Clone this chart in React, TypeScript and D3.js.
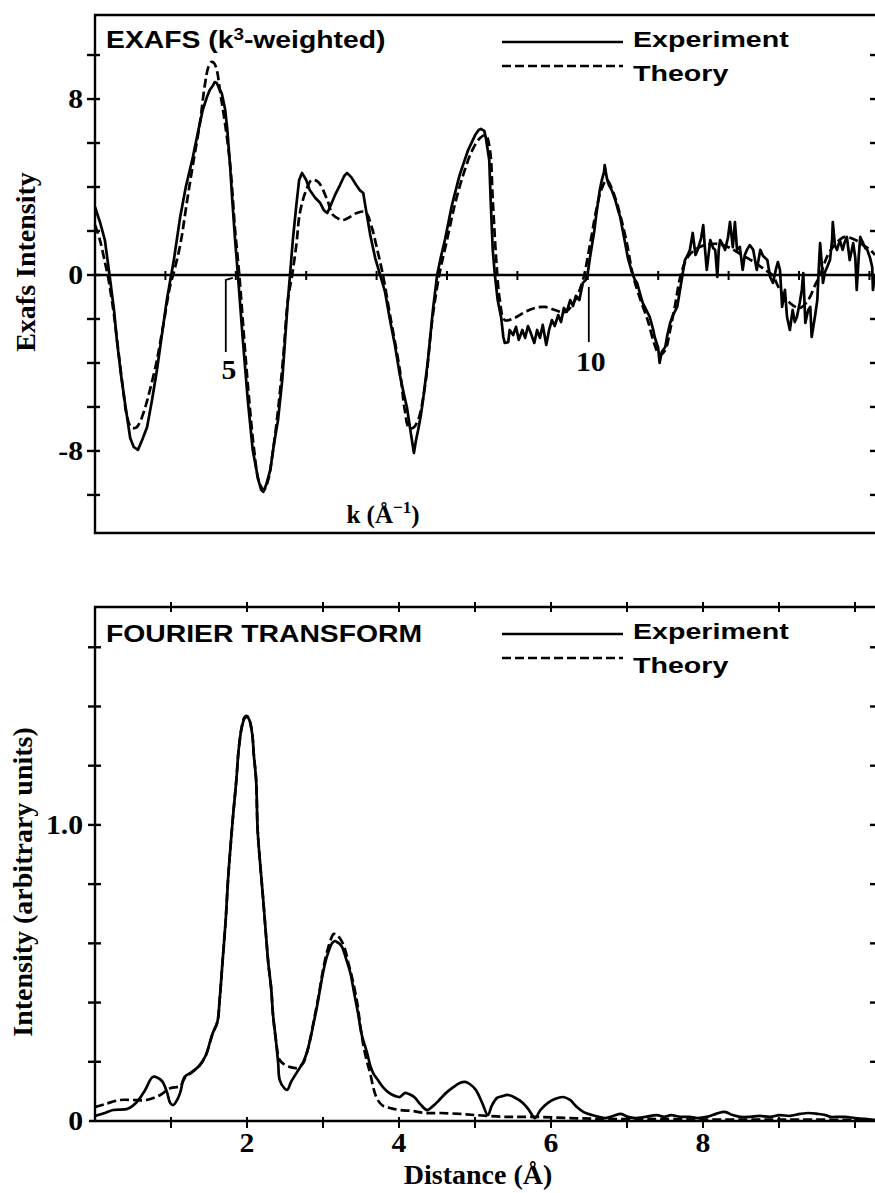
import React from "react";
import * as d3 from "d3";

// ---------- DATA ----------
// Top panel: k (Å^-1) vs k^3-weighted EXAFS intensity
const exafsExperiment: [number, number][] = [
  [3.0, 3.09], [3.07, 2.41], [3.14, 1.59], [3.21, -0.09], [3.27, -1.59], [3.31, -2.95], [3.37, -4.55],
  [3.43, -5.91], [3.5, -7.41], [3.55, -7.82], [3.61, -7.95], [3.67, -7.5], [3.74, -6.91], [3.81, -5.68],
  [3.88, -4.32], [3.95, -2.73], [4.02, -1.14], [4.07, -0.23], [4.12, 0.68], [4.21, 2.64], [4.29, 4.0],
  [4.39, 5.36], [4.46, 6.45], [4.53, 7.5], [4.59, 8.09], [4.63, 8.41], [4.68, 8.64], [4.7, 8.77],
  [4.73, 8.73], [4.76, 8.5], [4.8, 8.27], [4.85, 7.5], [4.88, 6.59], [4.92, 4.91], [4.95, 3.41],
  [4.99, 1.59], [5.03, 0], [5.1, -2.95], [5.17, -5.68], [5.24, -7.95], [5.32, -9.32], [5.36, -9.77],
  [5.39, -9.86], [5.43, -9.55], [5.49, -8.86], [5.54, -7.73], [5.6, -6.59], [5.66, -4.77], [5.7, -2.95],
  [5.74, -1.14], [5.77, 0], [5.81, 1.59], [5.86, 3.18], [5.9, 4.32], [5.94, 4.64], [6.0, 4.32],
  [6.05, 3.86], [6.13, 3.5], [6.2, 3.27], [6.25, 2.95], [6.3, 2.82], [6.35, 3.18], [6.41, 3.64],
  [6.48, 4.09], [6.54, 4.5], [6.58, 4.64], [6.64, 4.45], [6.71, 4.09], [6.76, 3.86], [6.81, 3.73],
  [6.85, 2.95], [6.91, 1.82], [6.98, 0.77], [7.05, 0], [7.12, -0.77], [7.19, -2.05], [7.26, -3.18],
  [7.33, -4.55], [7.39, -5.45], [7.43, -6.0], [7.49, -7.27], [7.53, -8.09], [7.56, -7.5], [7.59, -7.05],
  [7.63, -6.36], [7.66, -5.68], [7.73, -3.86], [7.8, -1.59], [7.86, 0], [7.91, 0.77], [7.97, 1.59],
  [8.07, 3.18], [8.18, 4.55], [8.3, 5.68], [8.4, 6.36], [8.45, 6.59], [8.48, 6.64], [8.53, 6.55],
  [8.55, 6.27], [8.6, 5.23], [8.62, 3.41], [8.65, 1.14], [8.68, 0], [8.72, -1.14], [8.77, -1.95],
  [8.8, -2.82], [8.82, -3.09], [8.87, -3.05], [8.89, -2.5], [8.94, -2.73], [8.98, -2.36], [9.02, -2.95],
  [9.07, -2.5], [9.11, -2.86], [9.15, -2.32], [9.19, -2.64], [9.24, -3.09], [9.28, -2.5], [9.32, -2.86],
  [9.36, -2.27], [9.41, -3.18], [9.45, -2.5], [9.49, -2.05], [9.53, -2.32], [9.58, -1.82], [9.62, -2.14],
  [9.66, -1.5], [9.7, -1.68], [9.75, -1.14], [9.79, -1.41], [9.83, -0.95], [9.88, -1.14], [9.93, -0.36],
  [9.97, -0.23], [10.0, 0.09], [10.03, 0.77], [10.06, 1.36], [10.09, 1.95], [10.12, 2.73], [10.14, 3.18],
  [10.17, 3.86], [10.2, 4.32], [10.23, 4.68], [10.24, 5.0], [10.27, 4.41], [10.3, 4.09], [10.34, 3.86],
  [10.39, 3.41], [10.43, 2.95], [10.46, 2.64], [10.5, 1.95], [10.53, 1.45], [10.57, 0.77], [10.63, 0.09],
  [10.67, -0.23], [10.7, -0.36], [10.74, -0.82], [10.78, -1.27], [10.83, -1.59], [10.88, -1.91],
  [10.93, -2.5], [10.95, -2.82], [11.0, -3.32], [11.02, -4.0], [11.05, -3.5], [11.1, -3.27], [11.13, -2.73],
  [11.17, -2.18], [11.21, -1.82], [11.27, -1.45], [11.31, -0.68], [11.34, -0.09], [11.38, 0.68],
  [11.42, 0.91], [11.45, 1.14], [11.49, 1.91], [11.53, 0.91], [11.56, 1.14], [11.61, 1.68], [11.64, 2.27],
  [11.66, 1.36], [11.69, 0.23], [11.74, 1.59], [11.78, 1.23], [11.81, 1.14], [11.84, -0.09], [11.86, 1.14],
  [11.88, 1.59], [11.92, 1.36], [11.95, 1.14], [11.99, 1.68], [12.02, 2.41], [12.06, 1.27], [12.09, 2.41],
  [12.12, 1.14], [12.16, 1.27], [12.2, 0.23], [12.23, 0.91], [12.26, 1.14], [12.3, 1.36], [12.35, 1.14],
  [12.38, 0.59], [12.4, 0.23], [12.45, 1.14], [12.49, 0.86], [12.55, 0.68], [12.59, -0.09], [12.63, -0.36],
  [12.67, 0.23], [12.7, 0.59], [12.73, 0.23], [12.76, -1.45], [12.8, -0.68], [12.83, -1.91], [12.87, -2.5],
  [12.91, -1.59], [12.94, -2.14], [12.97, -1.91], [13.01, -1.27], [13.04, -0.68], [13.06, 0.09],
  [13.09, -2.18], [13.13, -1.59], [13.16, -1.45], [13.18, -2.82], [13.23, -1.82], [13.26, -1.14],
  [13.28, 0.23], [13.3, 1.45], [13.33, 0.23], [13.34, -0.36], [13.37, 0.14], [13.4, 0.36], [13.44, 0.68],
  [13.47, 1.59], [13.48, 2.41], [13.51, 1.36], [13.54, 1.14], [13.58, 1.59], [13.62, 1.14], [13.65, 1.5],
  [13.68, 1.73], [13.72, 0.68], [13.75, 1.14], [13.77, 1.45], [13.8, 0.77], [13.82, -0.68], [13.85, 0.91],
  [13.87, 1.73], [13.89, 1.59], [13.91, 1.45], [13.94, 1.23], [13.97, 1.14], [14.01, 0.77], [14.04, 0.36],
  [14.05, -0.68], [14.08, 0],
];

const exafsTheory: [number, number][] = [
  [3.0, 2.27], [3.07, 1.59], [3.14, 0.59], [3.18, 0], [3.26, -1.59], [3.33, -3.41], [3.4, -5.23],
  [3.45, -6.36], [3.51, -6.91], [3.58, -6.95], [3.64, -6.68], [3.71, -6.05], [3.78, -5.23], [3.88, -3.86],
  [3.97, -2.27], [4.07, -0.45], [4.11, 0], [4.21, 1.36], [4.31, 3.41], [4.39, 5.0], [4.49, 6.91],
  [4.56, 8.64], [4.61, 9.45], [4.65, 9.68], [4.69, 9.64], [4.73, 9.32], [4.78, 8.27], [4.85, 6.82],
  [4.92, 5.0], [4.99, 2.05], [5.05, 0], [5.12, -2.95], [5.19, -5.68], [5.26, -7.95], [5.33, -9.41],
  [5.4, -9.77], [5.46, -9.32], [5.53, -7.95], [5.6, -6.14], [5.67, -3.86], [5.74, -1.14], [5.8, 0],
  [5.86, 1.36], [5.91, 2.82], [6.0, 3.86], [6.08, 4.32], [6.17, 4.23], [6.3, 3.41], [6.38, 2.73],
  [6.52, 2.5], [6.62, 2.64], [6.72, 2.82], [6.84, 2.86], [6.93, 2.18], [7.01, 1.14], [7.09, 0],
  [7.19, -1.82], [7.33, -4.32], [7.4, -6.14], [7.46, -6.95], [7.52, -6.95], [7.59, -6.59], [7.69, -5.0],
  [7.79, -2.05], [7.89, 0], [8.0, 1.59], [8.11, 3.18], [8.23, 4.55], [8.36, 5.68], [8.47, 6.23],
  [8.55, 6.36], [8.61, 5.68], [8.65, 3.41], [8.7, 0.68], [8.75, -1.14], [8.82, -2.05], [8.96, -1.95],
  [9.11, -1.68], [9.25, -1.5], [9.39, -1.45], [9.53, -1.59], [9.68, -1.68], [9.82, -1.14], [9.93, -0.23],
  [10.03, 1.36], [10.12, 2.95], [10.19, 3.86], [10.27, 4.32], [10.36, 3.77], [10.46, 2.73], [10.56, 1.36],
  [10.64, 0], [10.74, -1.05], [10.85, -2.05], [10.95, -3.18], [11.02, -3.64], [11.1, -3.41], [11.17, -2.5],
  [11.24, -1.36], [11.32, 0], [11.41, 0.77], [11.52, 1.14], [11.66, 1.36], [11.85, 1.41], [12.02, 1.23],
  [12.19, 0.91], [12.38, 0.55], [12.52, 0.23], [12.62, 0], [12.73, -0.68], [12.87, -1.27], [13.01, -1.5],
  [13.13, -1.14], [13.23, -0.45], [13.3, 0], [13.41, 0.91], [13.53, 1.45], [13.65, 1.73], [13.8, 1.59],
  [13.91, 1.36], [14.01, 1.14], [14.08, 0.91],
];

// Bottom panel: distance (Å) vs Fourier transform magnitude
const ftExperiment: [number, number][] = [
  [0.0, 0.017], [0.13, 0.027], [0.24, 0.037], [0.43, 0.041], [0.55, 0.064], [0.66, 0.105], [0.76, 0.149],
  [0.83, 0.145], [0.89, 0.132], [0.95, 0.095], [0.99, 0.061], [1.03, 0.054], [1.08, 0.071], [1.12, 0.095],
  [1.18, 0.149], [1.28, 0.166], [1.38, 0.189], [1.46, 0.223], [1.51, 0.264], [1.55, 0.297], [1.61, 0.334],
  [1.64, 0.409], [1.68, 0.544], [1.72, 0.679], [1.75, 0.814], [1.79, 0.949], [1.82, 1.041], [1.86, 1.152],
  [1.89, 1.253], [1.93, 1.328], [1.97, 1.361], [2.0, 1.365], [2.03, 1.355], [2.07, 1.304], [2.09, 1.236],
  [2.12, 1.152], [2.14, 0.983], [2.18, 0.848], [2.21, 0.757], [2.25, 0.628], [2.28, 0.534], [2.32, 0.443],
  [2.34, 0.365], [2.38, 0.274], [2.41, 0.196], [2.43, 0.139], [2.49, 0.111], [2.53, 0.105], [2.58, 0.132],
  [2.66, 0.166], [2.74, 0.199], [2.79, 0.233], [2.83, 0.274], [2.88, 0.334], [2.92, 0.385], [2.96, 0.443],
  [3.0, 0.5], [3.05, 0.554], [3.12, 0.601], [3.16, 0.608], [3.18, 0.605], [3.22, 0.598], [3.25, 0.588],
  [3.3, 0.551], [3.36, 0.5], [3.41, 0.432], [3.46, 0.365], [3.51, 0.291], [3.58, 0.23], [3.62, 0.189],
  [3.66, 0.162], [3.72, 0.139], [3.8, 0.111], [3.87, 0.095], [3.95, 0.084], [4.01, 0.081], [4.08, 0.095],
  [4.13, 0.091], [4.2, 0.081], [4.28, 0.057], [4.37, 0.037], [4.45, 0.051], [4.53, 0.071], [4.62, 0.095],
  [4.72, 0.115], [4.8, 0.128], [4.87, 0.132], [4.93, 0.125], [5.01, 0.105], [5.09, 0.064], [5.17, 0.02],
  [5.22, 0.051], [5.29, 0.078], [5.36, 0.084], [5.43, 0.088], [5.51, 0.081], [5.63, 0.061], [5.71, 0.037],
  [5.79, 0.01], [5.86, 0.037], [5.96, 0.061], [6.05, 0.074], [6.16, 0.081], [6.25, 0.071], [6.34, 0.047],
  [6.43, 0.03], [6.54, 0.02], [6.63, 0.014], [6.72, 0.01], [6.82, 0.017], [6.92, 0.024], [7.01, 0.014],
  [7.11, 0.01], [7.24, 0.014], [7.39, 0.02], [7.49, 0.014], [7.58, 0.02], [7.7, 0.014], [7.82, 0.014],
  [7.93, 0.01], [8.05, 0.014], [8.17, 0.024], [8.25, 0.03], [8.3, 0.03], [8.39, 0.02], [8.49, 0.014],
  [8.62, 0.014], [8.75, 0.017], [8.88, 0.014], [9.01, 0.02], [9.14, 0.017], [9.28, 0.024], [9.39, 0.027],
  [9.51, 0.024], [9.61, 0.02], [9.68, 0.014], [9.78, 0.014], [9.87, 0.014], [10.0, 0.01], [10.13, 0.007],
  [10.26, 0.003],
];

const ftTheory: [number, number][] = [
  [0.0, 0.047], [0.13, 0.057], [0.33, 0.071], [0.5, 0.071], [0.68, 0.071], [0.86, 0.088], [0.99, 0.111],
  [1.12, 0.118], [1.18, 0.145], [1.28, 0.166], [1.38, 0.189], [1.46, 0.223], [1.51, 0.264], [1.55, 0.297],
  [1.61, 0.334], [1.64, 0.409], [1.68, 0.544], [1.72, 0.679], [1.75, 0.814], [1.79, 0.949], [1.82, 1.041],
  [1.86, 1.152], [1.89, 1.253], [1.93, 1.33], [1.97, 1.365], [2.0, 1.368], [2.03, 1.357], [2.07, 1.304],
  [2.09, 1.236], [2.12, 1.152], [2.14, 0.983], [2.18, 0.848], [2.21, 0.757], [2.25, 0.628], [2.28, 0.534],
  [2.32, 0.443], [2.34, 0.365], [2.38, 0.274], [2.43, 0.206], [2.5, 0.189], [2.57, 0.182], [2.66, 0.179],
  [2.74, 0.196], [2.79, 0.233], [2.83, 0.274], [2.88, 0.341], [2.92, 0.392], [2.96, 0.449], [3.0, 0.51],
  [3.05, 0.568], [3.11, 0.618], [3.14, 0.632], [3.18, 0.628], [3.22, 0.618], [3.28, 0.588], [3.34, 0.527],
  [3.39, 0.476], [3.45, 0.399], [3.49, 0.324], [3.53, 0.257], [3.58, 0.199], [3.62, 0.162], [3.67, 0.105],
  [3.72, 0.071], [3.79, 0.051], [3.88, 0.044], [4.01, 0.037], [4.17, 0.034], [4.34, 0.027], [4.54, 0.027],
  [4.8, 0.024], [5.01, 0.02], [5.39, 0.014], [5.78, 0.014], [6.25, 0.01], [6.72, 0.007], [7.3, 0.007],
  [7.96, 0.005], [8.62, 0.005], [9.28, 0.005], [10.26, 0.003],
];

const exafsYTicks = [-10, -8, -6, -4, -2, 0, 2, 4, 6, 8, 10];
const exafsYLabels = [8, 0, -8];
const exafsKTicks = [4, 5, 6, 7, 8, 9, 10, 11, 12, 13, 14];
const ftYTicks = [0.2, 0.4, 0.6, 0.8, 1.0, 1.2, 1.4, 1.6];
const ftYLabels = [0, 1.0];
const ftXTicks = [1, 2, 3, 4, 5, 6, 7, 8, 9, 10];
const ftXLabels = [2, 4, 6, 8];

// ---------- LAYOUT ----------
const W = 875;
const H = 1193;
const L = 95;
const R = 878;
const SANS = "'Liberation Sans', Arial, Helvetica, sans-serif";
const SERIF = "'Liberation Serif', 'Times New Roman', Times, serif";
const DASH = "9,4";
const LW = 2.7;
const FW = 2.4;

const top = { t: 15, b: 533 };
const bot = { t: 607, b: 1121 };

const xK = d3.scaleLinear().domain([3, 14]).range([L, L + 11 * 70.4]);
const yE = d3.scaleLinear().domain([-11.73, 11.82]).range([top.b, top.t]);
const xD = d3.scaleLinear().domain([0, 10]).range([L, L + 760]);
const yF = d3.scaleLinear().domain([0, 1.736]).range([bot.b, bot.t]);

const lineTop = d3.line<[number, number]>().x((d) => xK(d[0])).y((d) => yE(d[1]));
const lineTopSmooth = d3
  .line<[number, number]>()
  .x((d) => xK(d[0]))
  .y((d) => yE(d[1]))
  .curve(d3.curveCatmullRom.alpha(0.5));
const lineBot = d3
  .line<[number, number]>()
  .x((d) => xD(d[0]))
  .y((d) => yF(d[1]))
  .curve(d3.curveCatmullRom.alpha(0.5));

function SText(props: {
  x: number;
  y: number;
  sx?: number;
  size: number;
  anchor?: string;
  family?: string;
  children: React.ReactNode;
}) {
  const { x, y, sx = 1, size, anchor = "start", family = SANS, children } = props;
  return (
    <text
      transform={`translate(${x},${y}) scale(${sx},1)`}
      fontFamily={family}
      fontWeight="bold"
      fontSize={size}
      textAnchor={anchor}
      fill="#000"
    >
      {children}
    </text>
  );
}

function Legend({ y0 }: { y0: number }) {
  return (
    <g>
      <line x1={502} x2={623} y1={y0 + 27} y2={y0 + 27} stroke="#000" strokeWidth={LW} />
      <line x1={502} x2={623} y1={y0 + 51} y2={y0 + 51} stroke="#000" strokeWidth={LW} strokeDasharray={DASH} />
      <SText x={633} y={y0 + 32} sx={1.3} size={22}>Experiment</SText>
      <SText x={633} y={y0 + 66} sx={1.3} size={22}>Theory</SText>
    </g>
  );
}

export default function App() {
  return (
    <svg
      width={W}
      height={H}
      viewBox={`0 0 ${W} ${H}`}
      style={{ position: "absolute", left: 0, top: 0, background: "#fff" }}
    >
      <rect x={0} y={0} width={W} height={H} fill="#fff" />

      {/* ================= TOP PANEL ================= */}
      <g>
        <path
          d={`M${R},${top.t} L${L},${top.t} L${L},${top.b} L${R},${top.b}`}
          fill="none"
          stroke="#000"
          strokeWidth={FW}
        />
        <line x1={L} x2={R} y1={yE(0)} y2={yE(0)} stroke="#000" strokeWidth={FW} />
        {exafsKTicks.map((k) => (
          <line key={k} x1={xK(k)} x2={xK(k)} y1={yE(0) - 4} y2={yE(0) + 5} stroke="#000" strokeWidth={2} />
        ))}
        {exafsYTicks.map((v) => (
          <g key={v}>
            <line x1={L - 8} x2={L + 5} y1={yE(v)} y2={yE(v)} stroke="#000" strokeWidth={FW} />
            <line x1={R - 8} x2={R} y1={yE(v)} y2={yE(v)} stroke="#000" strokeWidth={FW} />
          </g>
        ))}
        {exafsYLabels.map((v) => (
          <SText key={v} x={83} y={yE(v) + 9} sx={1.1} size={27} family={SERIF} anchor="end">
            {v < 0 ? `-${Math.abs(v)}` : `${v}`}
          </SText>
        ))}
        <path
          d={`M${xK(5) - 3},${yE(0) + 3} L${xK(5) - 10},${yE(0) + 5} L${xK(5) - 10},${yE(0) + 77}`}
          fill="none"
          stroke="#000"
          strokeWidth={1.8}
        />
        <SText x={xK(5) - 7} y={yE(0) + 104} sx={1.1} size={27} family={SERIF} anchor="middle">5</SText>
        <line x1={xK(10) + 1} x2={xK(10) + 1} y1={yE(0) + 12} y2={yE(0) + 67} stroke="#000" strokeWidth={1.8} />
        <SText x={xK(10) + 3} y={yE(0) + 96} sx={1.1} size={27} family={SERIF} anchor="middle">10</SText>

        <path d={lineTopSmooth(exafsTheory) || ""} fill="none" stroke="#000" strokeWidth={LW} strokeDasharray={DASH} />
        <path d={lineTop(exafsExperiment) || ""} fill="none" stroke="#000" strokeWidth={LW} strokeLinejoin="round" />

        <SText x={106} y={48} sx={1.18} size={24}>
          EXAFS (k<tspan fontSize={16} dy={-8}>3</tspan>
          <tspan dy={8}>-weighted)</tspan>
        </SText>
        <Legend y0={top.t} />
        <text
          transform={`translate(35,262) rotate(-90)`}
          fontFamily={SERIF}
          fontWeight="bold"
          fontSize={28}
          textAnchor="middle"
        >
          Exafs Intensity
        </text>
        <text x={383} y={523} fontFamily={SERIF} fontWeight="bold" fontSize={25} textAnchor="middle">
          k (Å<tspan fontSize={17} dy={-10}>−1</tspan>
          <tspan dy={10}>)</tspan>
        </text>
      </g>

      {/* ================= BOTTOM PANEL ================= */}
      <g>
        <path d={`M${R},${bot.t} L${L},${bot.t} L${L},${bot.b}`} fill="none" stroke="#000" strokeWidth={FW} />
        <line x1={L - 6} x2={R} y1={bot.b} y2={bot.b} stroke="#000" strokeWidth={2.7} />
        {ftXTicks.map((d) => (
          <g key={d}>
            <line x1={xD(d)} x2={xD(d)} y1={bot.t - 5} y2={bot.t + 5} stroke="#000" strokeWidth={2} />
            <line x1={xD(d)} x2={xD(d)} y1={bot.b - 4} y2={bot.b + 7} stroke="#000" strokeWidth={2} />
          </g>
        ))}
        {ftYTicks.map((v) => (
          <g key={v}>
            <line x1={L - 7} x2={L + 6} y1={yF(v)} y2={yF(v)} stroke="#000" strokeWidth={FW} />
            <line x1={R - 8} x2={R} y1={yF(v)} y2={yF(v)} stroke="#000" strokeWidth={FW} />
          </g>
        ))}
        {ftYLabels.map((v) => (
          <SText key={v} x={83} y={yF(v) + 9} sx={1.1} size={27} family={SERIF} anchor="end">
            {v === 0 ? "0" : v.toFixed(1)}
          </SText>
        ))}
        {ftXLabels.map((d) => (
          <SText key={d} x={xD(d)} y={bot.b + 31} sx={1.1} size={27} family={SERIF} anchor="middle">
            {d}
          </SText>
        ))}

        <path d={lineBot(ftTheory) || ""} fill="none" stroke="#000" strokeWidth={LW} strokeDasharray={DASH} />
        <path d={lineBot(ftExperiment) || ""} fill="none" stroke="#000" strokeWidth={LW} strokeLinejoin="round" />

        <SText x={106} y={bot.t + 35} sx={1.18} size={24}>FOURIER TRANSFORM</SText>
        <Legend y0={bot.t} />
        <text
          transform={`translate(32,882) rotate(-90)`}
          fontFamily={SERIF}
          fontWeight="bold"
          fontSize={28}
          textAnchor="middle"
        >
          Intensity (arbitrary units)
        </text>
        <text x={478} y={1184} fontFamily={SERIF} fontWeight="bold" fontSize={28} textAnchor="middle">
          Distance (Å)
        </text>
      </g>
    </svg>
  );
}
